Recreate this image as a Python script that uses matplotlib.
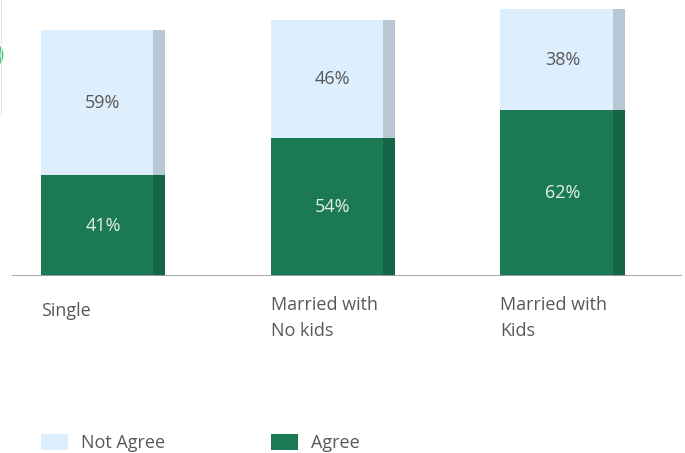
import matplotlib.pyplot as plt
from matplotlib.patches import Ellipse, Patch
from matplotlib.lines import Line2D

plt.rcParams['font.family'] = ['Open Sans', 'DejaVu Sans']

groups = ['Single', 'Married with\nNo kids', 'Married with\nKids']
agree = [41, 54, 62]
not_agree = [59, 46, 38]
# relative height of each column
totals = [92, 96, 100]

c_light = '#ddeefc'
c_light_side = '#b8c7d4'
c_green = '#1b7a53'
c_green_side = '#166548'
c_text = '#585858'

W, H = 685, 453
fig = plt.figure(figsize=(W / 100, H / 100), dpi=100)
ax = fig.add_axes([12 / W, (H - 276) / H, 670 / W, 267 / H])

x = range(len(groups))
bw = 0.54
side = 0.052

for i in x:
    a = totals[i] * agree[i] / 100
    n = totals[i] * not_agree[i] / 100
    ax.bar(i, a, width=bw, color=c_green, linewidth=0)
    ax.bar(i, n, bottom=a, width=bw, color=c_light, linewidth=0)
    # darker strip on the right side of each column
    ax.bar(i + bw / 2 - side, a, width=side, align='edge', color=c_green_side, linewidth=0)
    ax.bar(i + bw / 2 - side, n, bottom=a, width=side, align='edge', color=c_light_side, linewidth=0)
    ax.text(i, a / 2, f'{agree[i]}%', ha='center', va='center', fontsize=13, color='#e6f0ea')
    ax.text(i, a + n / 2, f'{not_agree[i]}%', ha='center', va='center', fontsize=13, color=c_text)
    ty = -0.097 if '\n' not in groups[i] else -0.075
    ax.text(i - bw / 2, ty, groups[i], transform=ax.get_xaxis_transform(),
            ha='left', va='top', fontsize=13, color=c_text, linespacing=1.6)

ax.set_xlim(-0.396, 2.52)
ax.set_ylim(0, 100)
ax.axhline(0, color='#a0a0a0', linewidth=2)
ax.axis('off')

handles = [Patch(facecolor=c_light, edgecolor='none', label='Not Agree'),
           Patch(facecolor=c_green, edgecolor='none', label='Agree')]
fig.legend(handles=handles, loc='lower left', bbox_to_anchor=(41 / W, 1 / H), ncol=2,
           frameon=False, fontsize=13, labelcolor=c_text, borderpad=0, borderaxespad=0,
           handlelength=1.5, handleheight=1.0, handletextpad=0.7, columnspacing=5.9)

# small ring cut off at the left edge
fig.patches.append(Ellipse((-8 / W, (H - 55) / H), 20 / W, 22 / H, transform=fig.transFigure,
                           fill=False, edgecolor='#2ecc71', linewidth=2))
fig.lines.append(Line2D([1 / W, 1 / W], [1, (H - 115) / H], transform=fig.transFigure,
                        color='#e4e4e4', linewidth=0.8))

fig.savefig('out.png', dpi=100)
